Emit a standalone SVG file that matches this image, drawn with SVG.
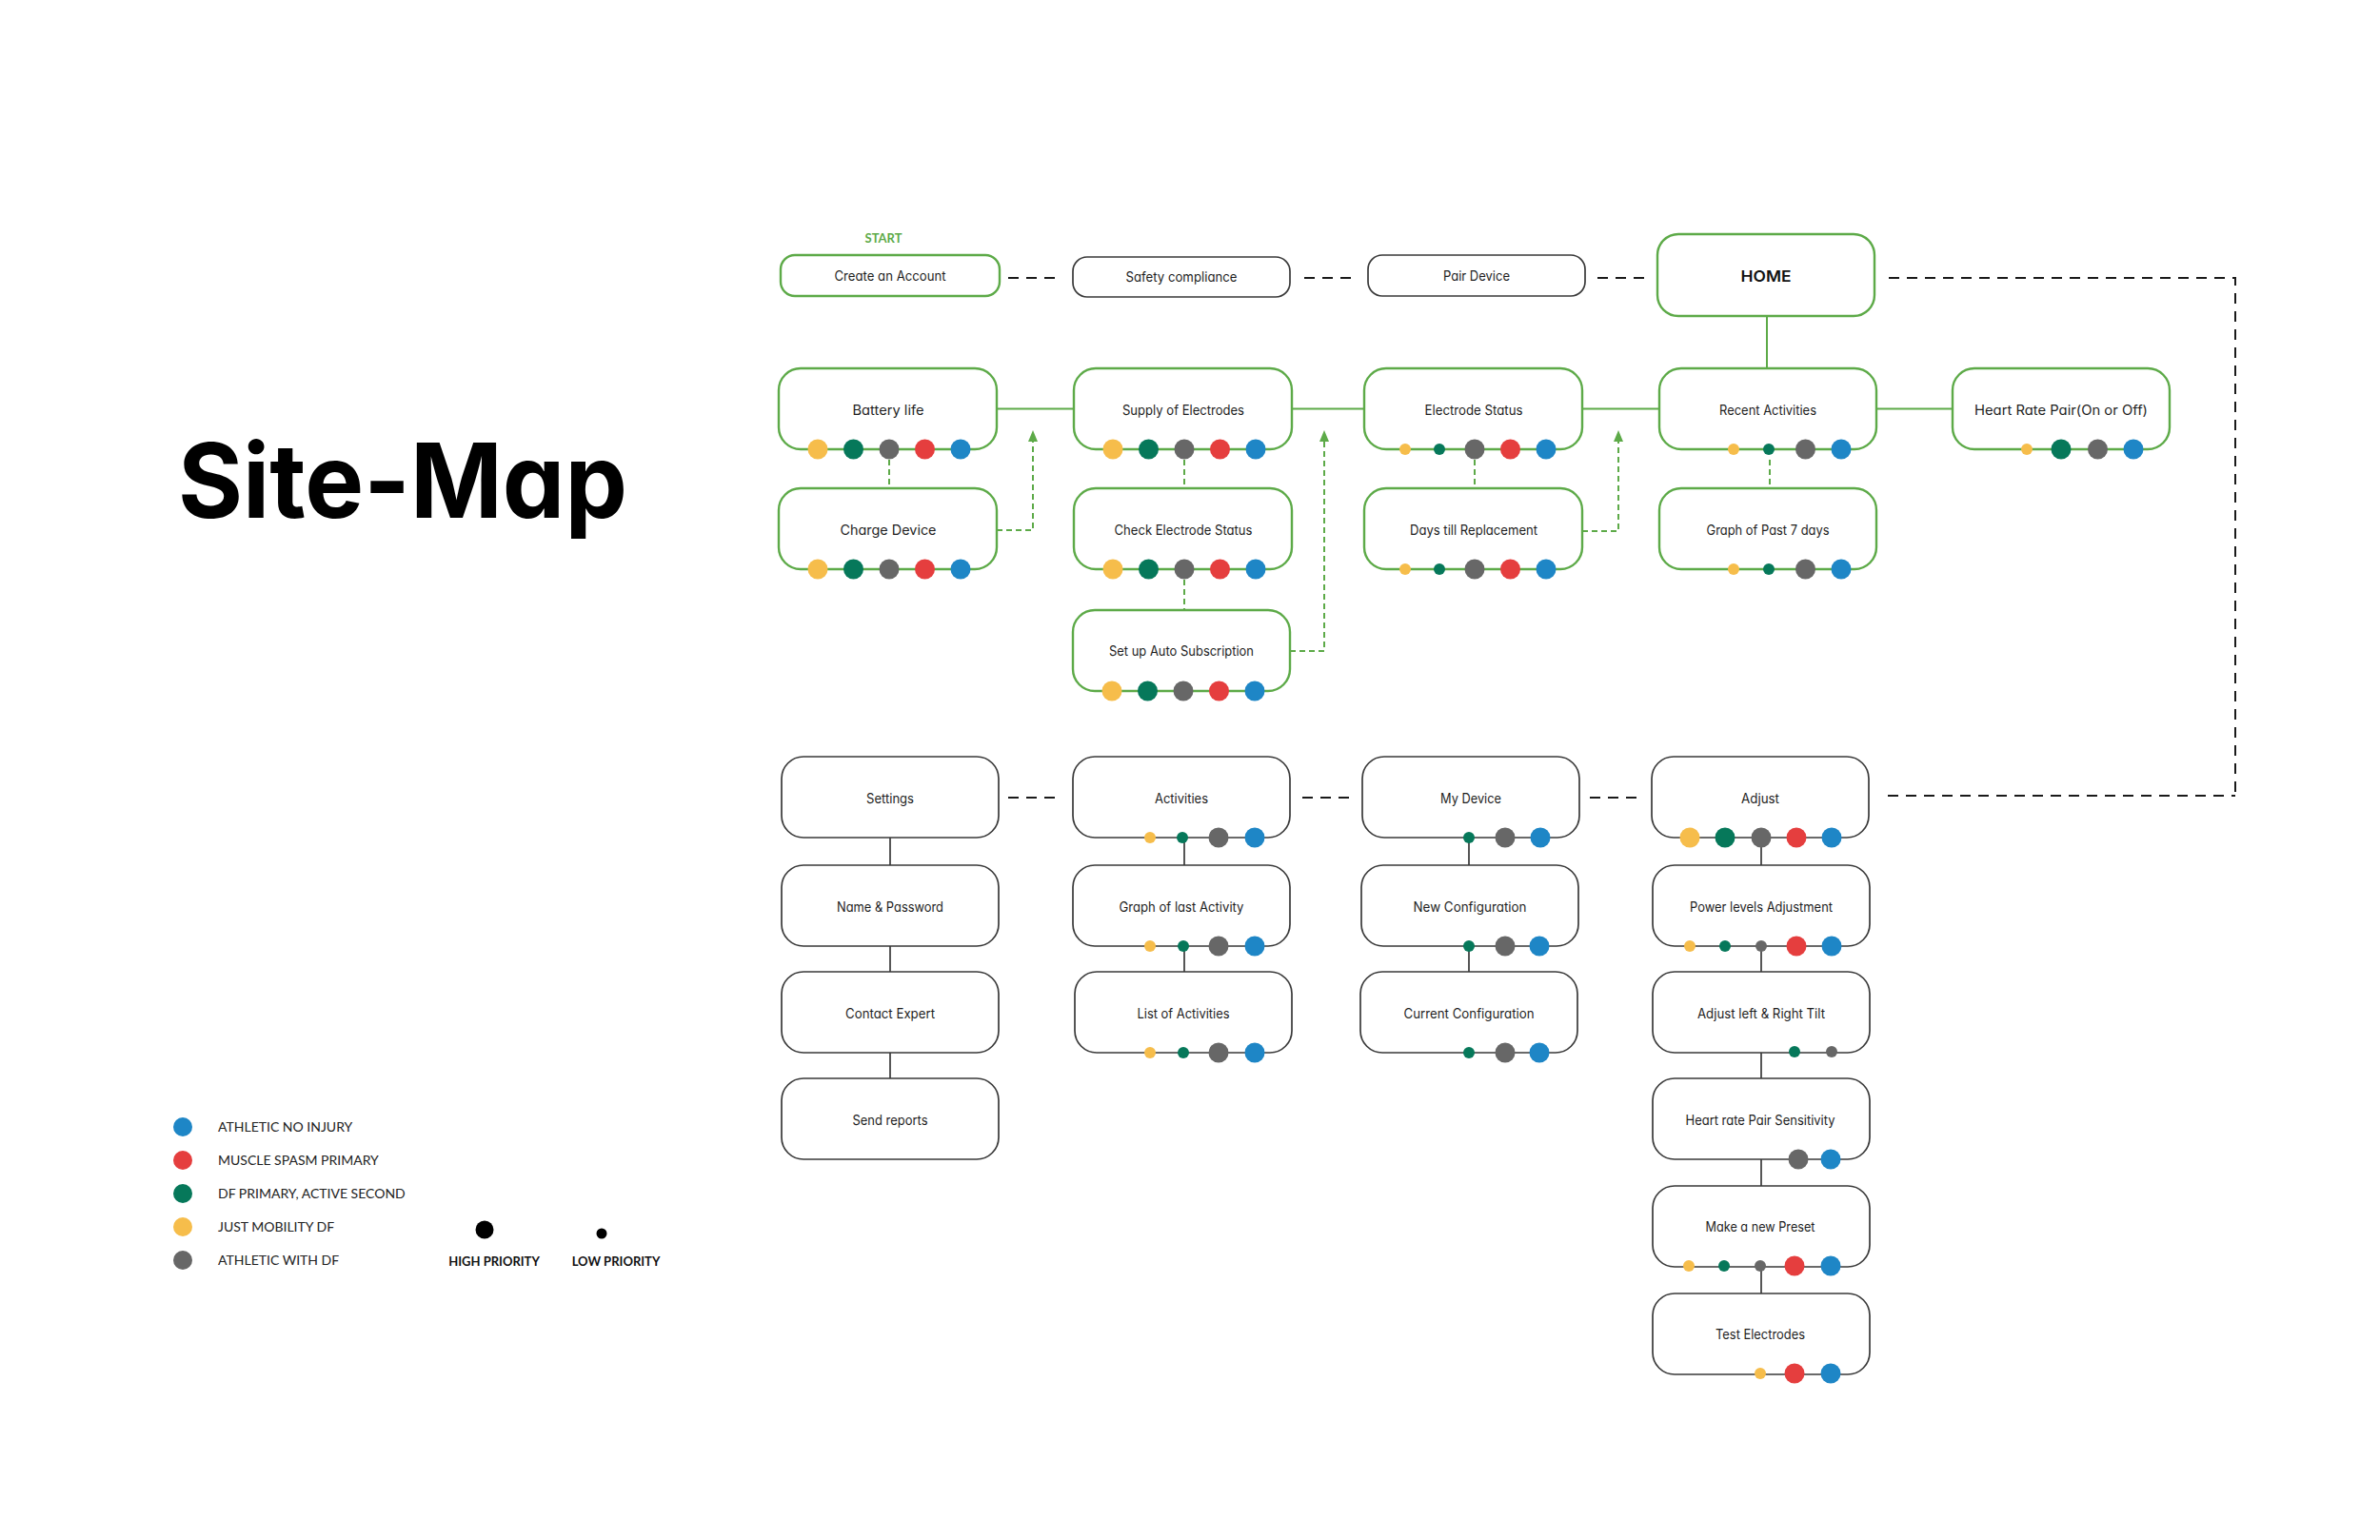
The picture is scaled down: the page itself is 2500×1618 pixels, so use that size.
<svg xmlns="http://www.w3.org/2000/svg" width="2500" height="1618" viewBox="0 0 2500 1618">
<defs>
<style>
.bg{fill:#ffffff}
.g{fill:#fff;stroke:#5DAA48;stroke-width:2.4}
.k{fill:#fff;stroke:#3a3a3a;stroke-width:1.7}
.lbl{font-family:Inter,"Liberation Sans",sans-serif;font-size:14px;fill:#1e1e1e;text-anchor:middle;font-feature-settings:"cv11"}
.home{font-family:Inter,"Liberation Sans",sans-serif;font-size:16px;font-weight:600;fill:#111;text-anchor:middle}
.title{font-family:Inter,"Liberation Sans",sans-serif;font-size:108px;font-weight:700;fill:#000;font-feature-settings:"cv11"}
.start{font-family:Lato,"Liberation Sans",sans-serif;font-size:13px;font-weight:700;fill:#5DAA48;text-anchor:middle}
.leg{font-family:Lato,"Liberation Sans",sans-serif;font-size:14px;fill:#222}
.pri{font-family:Lato,"Liberation Sans",sans-serif;font-size:13px;font-weight:700;fill:#111;text-anchor:middle}
.dy{fill:#F6BD4B}.dg{fill:#06785A}.dk{fill:#676767}.dr{fill:#E53E3E}.db{fill:#1E86C6}
.gs{fill:none;stroke:#5DAA48;stroke-width:2}
.gd{fill:none;stroke:#5DAA48;stroke-width:2;stroke-dasharray:6 4}
.kd{fill:none;stroke:#1a1a1a;stroke-width:2;stroke-dasharray:11 8}
.ks{fill:none;stroke:#3a3a3a;stroke-width:1.7}
</style>
<marker id="ah" markerUnits="userSpaceOnUse" markerWidth="12" markerHeight="10" viewBox="0 0 12 10" refX="0" refY="5" orient="auto">
<path d="M0,0 L12,5 L0,10 z" fill="#5DAA48" stroke="none"/>
</marker>
</defs>
<rect class="bg" x="0" y="0" width="2500" height="1618"/>

<text class="title" x="187" y="544" textLength="472" lengthAdjust="spacingAndGlyphs">Site-Map</text>

<g id="connectors">
<path class="kd" d="M1059,292 H1116"/>
<path class="kd" d="M1370,292 H1426"/>
<path class="kd" d="M1678,292 H1729"/>
<path class="kd" d="M1984,292 H2348 V836"/>
<path class="kd" d="M1983,836 H2348"/>
<path class="kd" d="M1059,838 H1115"/>
<path class="kd" d="M1368,838 H1420"/>
<path class="kd" d="M1670,838 H1726"/>
<path class="gs" d="M1856,332 V387"/>
<path class="gs" d="M1047,429.5 H1128"/>
<path class="gs" d="M1357,429.5 H1433"/>
<path class="gs" d="M1662,429.5 H1743"/>
<path class="gs" d="M1972,429.5 H2051"/>
<path class="gd" d="M934,483 V513"/>
<path class="gd" d="M1244,483 V513"/>
<path class="gd" d="M1244,609 V641"/>
<path class="gd" d="M1549,483 V513"/>
<path class="gd" d="M1859,483 V513"/>
<path class="gd" d="M1047,557 H1085 V464" marker-end="url(#ah)"/>
<path class="gd" d="M1355,684 H1391 V464" marker-end="url(#ah)"/>
<path class="gd" d="M1662,558 H1700 V464" marker-end="url(#ah)"/>
<path class="ks" d="M935,880 V909 M935,994 V1021 M935,1106 V1133"/>
<path class="ks" d="M1244,880 V909 M1244,994 V1021"/>
<path class="ks" d="M1543,880 V909 M1543,994 V1021"/>
<path class="ks" d="M1850,880 V909 M1850,994 V1021 M1850,1106 V1133 M1850,1218 V1246 M1850,1331 V1359"/>
</g>

<g id="n-create">
<text class="start" x="928" y="254.5">START</text>
<rect class="g" x="820" y="268" width="230" height="43" rx="15"/>
<text class="lbl" x="935" y="295" textLength="117" lengthAdjust="spacingAndGlyphs">Create an Account</text>
</g>
<g id="n-safety">
<rect class="k" x="1127" y="270" width="228" height="42" rx="15"/>
<text class="lbl" x="1241" y="296" textLength="117" lengthAdjust="spacingAndGlyphs">Safety compliance</text>
</g>
<g id="n-pair">
<rect class="k" x="1437" y="268" width="228" height="43" rx="15"/>
<text class="lbl" x="1551" y="295" textLength="70" lengthAdjust="spacingAndGlyphs">Pair Device</text>
</g>
<g id="n-home">
<rect class="g" x="1741" y="246" width="228" height="86" rx="22"/>
<text class="home" x="1855" y="296" textLength="53" lengthAdjust="spacingAndGlyphs">HOME</text>
</g>

<g id="n-battery">
<rect class="g" x="818" y="387" width="229" height="85" rx="23"/>
<text class="lbl" x="933" y="436" textLength="75" lengthAdjust="spacingAndGlyphs">Battery life</text>
<circle class="dy" cx="859" cy="472" r="10.5"/><circle class="dg" cx="896.5" cy="472" r="10.5"/><circle class="dk" cx="934" cy="472" r="10.5"/><circle class="dr" cx="971.5" cy="472" r="10.5"/><circle class="db" cx="1009" cy="472" r="10.5"/>
</g>
<g id="n-supply">
<rect class="g" x="1128" y="387" width="229" height="85" rx="23"/>
<text class="lbl" x="1243" y="436" textLength="128" lengthAdjust="spacingAndGlyphs">Supply of Electrodes</text>
<circle class="dy" cx="1169" cy="472" r="10.5"/><circle class="dg" cx="1206.5" cy="472" r="10.5"/><circle class="dk" cx="1244" cy="472" r="10.5"/><circle class="dr" cx="1281.5" cy="472" r="10.5"/><circle class="db" cx="1319" cy="472" r="10.5"/>
</g>
<g id="n-electrode">
<rect class="g" x="1433" y="387" width="229" height="85" rx="23"/>
<text class="lbl" x="1548" y="436" textLength="103" lengthAdjust="spacingAndGlyphs">Electrode Status</text>
<circle class="dy" cx="1476" cy="472" r="6"/><circle class="dg" cx="1512" cy="472" r="6"/><circle class="dk" cx="1549" cy="472" r="10.5"/><circle class="dr" cx="1586.5" cy="472" r="10.5"/><circle class="db" cx="1624" cy="472" r="10.5"/>
</g>
<g id="n-recent">
<rect class="g" x="1743" y="387" width="228" height="85" rx="23"/>
<text class="lbl" x="1857" y="436" textLength="102" lengthAdjust="spacingAndGlyphs">Recent Activities</text>
<circle class="dy" cx="1821" cy="472" r="6"/><circle class="dg" cx="1858" cy="472" r="6"/><circle class="dk" cx="1896.5" cy="472" r="10.5"/><circle class="db" cx="1934" cy="472" r="10.5"/>
</g>
<g id="n-heartpair">
<rect class="g" x="2051" y="387" width="228" height="85" rx="23"/>
<text class="lbl" x="2165" y="436" textLength="182" lengthAdjust="spacingAndGlyphs">Heart Rate Pair(On or Off)</text>
<circle class="dy" cx="2129" cy="472" r="6"/><circle class="dg" cx="2165" cy="472" r="10.5"/><circle class="dk" cx="2203.5" cy="472" r="10.5"/><circle class="db" cx="2241" cy="472" r="10.5"/>
</g>

<g id="n-charge">
<rect class="g" x="818" y="513" width="229" height="85" rx="23"/>
<text class="lbl" x="933" y="562" textLength="101" lengthAdjust="spacingAndGlyphs">Charge Device</text>
<circle class="dy" cx="859" cy="598" r="10.5"/><circle class="dg" cx="896.5" cy="598" r="10.5"/><circle class="dk" cx="934" cy="598" r="10.5"/><circle class="dr" cx="971.5" cy="598" r="10.5"/><circle class="db" cx="1009" cy="598" r="10.5"/>
</g>
<g id="n-check">
<rect class="g" x="1128" y="513" width="229" height="85" rx="23"/>
<text class="lbl" x="1243" y="562" textLength="145" lengthAdjust="spacingAndGlyphs">Check Electrode Status</text>
<circle class="dy" cx="1169" cy="598" r="10.5"/><circle class="dg" cx="1206.5" cy="598" r="10.5"/><circle class="dk" cx="1244" cy="598" r="10.5"/><circle class="dr" cx="1281.5" cy="598" r="10.5"/><circle class="db" cx="1319" cy="598" r="10.5"/>
</g>
<g id="n-days">
<rect class="g" x="1433" y="513" width="229" height="85" rx="23"/>
<text class="lbl" x="1548" y="562" textLength="134" lengthAdjust="spacingAndGlyphs">Days till Replacement</text>
<circle class="dy" cx="1476" cy="598" r="6"/><circle class="dg" cx="1512" cy="598" r="6"/><circle class="dk" cx="1549" cy="598" r="10.5"/><circle class="dr" cx="1586.5" cy="598" r="10.5"/><circle class="db" cx="1624" cy="598" r="10.5"/>
</g>
<g id="n-graph7">
<rect class="g" x="1743" y="513" width="228" height="85" rx="23"/>
<text class="lbl" x="1857" y="562" textLength="129" lengthAdjust="spacingAndGlyphs">Graph of Past 7 days</text>
<circle class="dy" cx="1821" cy="598" r="6"/><circle class="dg" cx="1858" cy="598" r="6"/><circle class="dk" cx="1896.5" cy="598" r="10.5"/><circle class="db" cx="1934" cy="598" r="10.5"/>
</g>
<g id="n-subscription">
<rect class="g" x="1127" y="641" width="228" height="85" rx="23"/>
<text class="lbl" x="1241" y="689" textLength="152" lengthAdjust="spacingAndGlyphs">Set up Auto Subscription</text>
<circle class="dy" cx="1168" cy="726" r="10.5"/><circle class="dg" cx="1205.5" cy="726" r="10.5"/><circle class="dk" cx="1243" cy="726" r="10.5"/><circle class="dr" cx="1280.5" cy="726" r="10.5"/><circle class="db" cx="1318" cy="726" r="10.5"/>
</g>

<g id="n-settings">
<rect class="k" x="821" y="795" width="228" height="85" rx="23"/>
<text class="lbl" x="935" y="844" textLength="50" lengthAdjust="spacingAndGlyphs">Settings</text>
</g>
<g id="n-name">
<rect class="k" x="821" y="909" width="228" height="85" rx="23"/>
<text class="lbl" x="935" y="958" textLength="112" lengthAdjust="spacingAndGlyphs">Name &amp; Password</text>
</g>
<g id="n-contact">
<rect class="k" x="821" y="1021" width="228" height="85" rx="23"/>
<text class="lbl" x="935" y="1070" textLength="94" lengthAdjust="spacingAndGlyphs">Contact Expert</text>
</g>
<g id="n-send">
<rect class="k" x="821" y="1133" width="228" height="85" rx="23"/>
<text class="lbl" x="935" y="1182" textLength="79" lengthAdjust="spacingAndGlyphs">Send reports</text>
</g>

<g id="n-activities">
<rect class="k" x="1127" y="795" width="228" height="85" rx="23"/>
<text class="lbl" x="1241" y="844" textLength="56" lengthAdjust="spacingAndGlyphs">Activities</text>
<circle class="dy" cx="1208" cy="880" r="6"/><circle class="dg" cx="1242" cy="880" r="6"/><circle class="dk" cx="1280" cy="880" r="10.5"/><circle class="db" cx="1318" cy="880" r="10.5"/>
</g>
<g id="n-graphlast">
<rect class="k" x="1127" y="909" width="228" height="85" rx="23"/>
<text class="lbl" x="1241" y="958" textLength="131" lengthAdjust="spacingAndGlyphs">Graph of last Activity</text>
<circle class="dy" cx="1208" cy="994" r="6"/><circle class="dg" cx="1243" cy="994" r="6"/><circle class="dk" cx="1280" cy="994" r="10.5"/><circle class="db" cx="1318" cy="994" r="10.5"/>
</g>
<g id="n-list">
<rect class="k" x="1129" y="1021" width="228" height="85" rx="23"/>
<text class="lbl" x="1243" y="1070" textLength="97" lengthAdjust="spacingAndGlyphs">List of Activities</text>
<circle class="dy" cx="1208" cy="1106" r="6"/><circle class="dg" cx="1243" cy="1106" r="6"/><circle class="dk" cx="1280" cy="1106" r="10.5"/><circle class="db" cx="1318" cy="1106" r="10.5"/>
</g>

<g id="n-mydevice">
<rect class="k" x="1431" y="795" width="228" height="85" rx="23"/>
<text class="lbl" x="1545" y="844" textLength="64" lengthAdjust="spacingAndGlyphs">My Device</text>
<circle class="dg" cx="1543" cy="880" r="6"/><circle class="dk" cx="1581" cy="880" r="10.5"/><circle class="db" cx="1618" cy="880" r="10.5"/>
</g>
<g id="n-newconfig">
<rect class="k" x="1430" y="909" width="228" height="85" rx="23"/>
<text class="lbl" x="1544" y="958" textLength="119" lengthAdjust="spacingAndGlyphs">New Configuration</text>
<circle class="dg" cx="1543" cy="994" r="6"/><circle class="dk" cx="1581" cy="994" r="10.5"/><circle class="db" cx="1617" cy="994" r="10.5"/>
</g>
<g id="n-curconfig">
<rect class="k" x="1429" y="1021" width="228" height="85" rx="23"/>
<text class="lbl" x="1543" y="1070" textLength="137" lengthAdjust="spacingAndGlyphs">Current Configuration</text>
<circle class="dg" cx="1543" cy="1106" r="6"/><circle class="dk" cx="1581" cy="1106" r="10.5"/><circle class="db" cx="1617" cy="1106" r="10.5"/>
</g>

<g id="n-adjust">
<rect class="k" x="1735" y="795" width="228" height="85" rx="23"/>
<text class="lbl" x="1849" y="844" textLength="40" lengthAdjust="spacingAndGlyphs">Adjust</text>
<circle class="dy" cx="1775" cy="880" r="10.5"/><circle class="dg" cx="1812" cy="880" r="10.5"/><circle class="dk" cx="1850" cy="880" r="10.5"/><circle class="dr" cx="1887" cy="880" r="10.5"/><circle class="db" cx="1924" cy="880" r="10.5"/>
</g>
<g id="n-power">
<rect class="k" x="1736" y="909" width="228" height="85" rx="23"/>
<text class="lbl" x="1850" y="958" textLength="150" lengthAdjust="spacingAndGlyphs">Power levels Adjustment</text>
<circle class="dy" cx="1775" cy="994" r="6"/><circle class="dg" cx="1812" cy="994" r="6"/><circle class="dk" cx="1850" cy="994" r="6"/><circle class="dr" cx="1887" cy="994" r="10.5"/><circle class="db" cx="1924" cy="994" r="10.5"/>
</g>
<g id="n-tilt">
<rect class="k" x="1736" y="1021" width="228" height="85" rx="23"/>
<text class="lbl" x="1850" y="1070" textLength="134" lengthAdjust="spacingAndGlyphs">Adjust left &amp; Right Tilt</text>
<circle class="dg" cx="1885" cy="1105" r="6"/><circle class="dk" cx="1924" cy="1105" r="6"/>
</g>
<g id="n-hrsens">
<rect class="k" x="1736" y="1133" width="228" height="85" rx="23"/>
<text class="lbl" x="1849" y="1182" textLength="157" lengthAdjust="spacingAndGlyphs">Heart rate Pair Sensitivity</text>
<circle class="dk" cx="1889" cy="1218" r="10.5"/><circle class="db" cx="1923" cy="1218" r="10.5"/>
</g>
<g id="n-preset">
<rect class="k" x="1736" y="1246" width="228" height="85" rx="23"/>
<text class="lbl" x="1849" y="1294" textLength="115" lengthAdjust="spacingAndGlyphs">Make a new Preset</text>
<circle class="dy" cx="1774" cy="1330" r="6"/><circle class="dg" cx="1811" cy="1330" r="6"/><circle class="dk" cx="1849" cy="1330" r="6"/><circle class="dr" cx="1885" cy="1330" r="10.5"/><circle class="db" cx="1923" cy="1330" r="10.5"/>
</g>
<g id="n-test">
<rect class="k" x="1736" y="1359" width="228" height="85" rx="23"/>
<text class="lbl" x="1849" y="1407" textLength="94" lengthAdjust="spacingAndGlyphs">Test Electrodes</text>
<circle class="dy" cx="1849" cy="1443" r="6"/><circle class="dr" cx="1885" cy="1443" r="10.5"/><circle class="db" cx="1923" cy="1443" r="10.5"/>
</g>

<g id="legend">
<circle class="db" cx="192" cy="1184" r="10"/><text class="leg" x="229" y="1189">ATHLETIC NO INJURY</text>
<circle class="dr" cx="192" cy="1219" r="10"/><text class="leg" x="229" y="1224">MUSCLE SPASM PRIMARY</text>
<circle class="dg" cx="192" cy="1254" r="10"/><text class="leg" x="229" y="1259">DF PRIMARY, ACTIVE SECOND</text>
<circle class="dy" cx="192" cy="1289" r="10"/><text class="leg" x="229" y="1294">JUST MOBILITY DF</text>
<circle class="dk" cx="192" cy="1324" r="10"/><text class="leg" x="229" y="1329">ATHLETIC WITH DF</text>
<circle cx="509" cy="1292" r="9.5" fill="#000"/>
<text class="pri" x="519" y="1330">HIGH PRIORITY</text>
<circle cx="632" cy="1296" r="5.5" fill="#000"/>
<text class="pri" x="647" y="1330">LOW PRIORITY</text>
</g>
</svg>
